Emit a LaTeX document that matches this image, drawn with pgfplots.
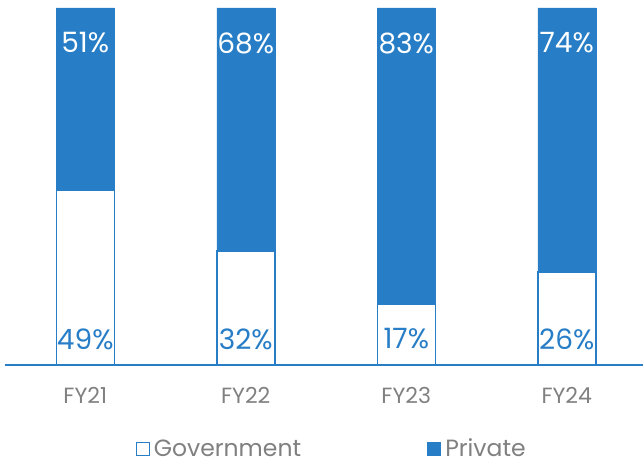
\documentclass[border=0pt]{standalone}
\usepackage{fontspec}
\setmainfont{Poppins}
\usepackage{pgfplots}
\pgfplotsset{compat=1.18}
\definecolor{pblue}{RGB}{39,126,199}
\definecolor{tgray}{RGB}{128,128,128}

\pgfplotstableread{
x gov priv
0 49 51
1 32 68
2 17 83
3 26 74
}\shares

\begin{document}
\begin{tikzpicture}[x=1pt,y=1pt,
    toplab/.style={text=white, font=\fontsize{28}{32}\selectfont, yshift=-35pt},
    botlab/.style={text=pblue, font=\fontsize{28}{32}\selectfont, yshift=26pt}]
\useasboundingbox (0,0) rectangle (643,461);
\begin{axis}[
    at={(5pt,96pt)}, anchor=south west,
    width=638pt, height=357pt, scale only axis,
    ybar stacked, bar width=58pt,
    ymin=0, ymax=100, xmin=-0.5, xmax=3.475,
    axis y line=none, axis x line=bottom,
    axis line style={-, draw=pblue, line width=1.5pt},
    xtick={0,1,2,3}, xticklabels={FY21,FY22,FY23,FY24},
    major tick length=0pt,
    xticklabel style={font=\fontsize{22}{26}\selectfont, text=tgray, yshift=-19pt},
    legend style={at={(0.512,-0.234)}, anchor=center, draw=none, fill=none,
        legend columns=2, font=\fontsize{23.5}{26}\selectfont, text=tgray,
        /tikz/every odd column/.append style={column sep=2pt},
        /tikz/every even column/.append style={column sep=124pt},
        inner sep=0pt},
    legend image code/.code={\draw[#1,line width=1.2pt] (0pt,-7pt) rectangle (13pt,6pt);},
    clip=false,
]
\addplot[fill=white, draw=pblue, line width=1.5pt] table[x=x, y=gov] {\shares};
\addplot[fill=pblue, draw=pblue, line width=0.5pt] table[x=x, y=priv] {\shares};
\legend{Government, Private}
\coordinate (t0) at (axis cs:0,100); \coordinate (b0) at (axis cs:0,0);
\coordinate (t1) at (axis cs:1,100); \coordinate (b1) at (axis cs:1,0);
\coordinate (t2) at (axis cs:2,100); \coordinate (b2) at (axis cs:2,0);
\coordinate (t3) at (axis cs:3,100); \coordinate (b3) at (axis cs:3,0);
\end{axis}
\node[toplab] at (t0) {51\%};
\node[toplab] at (t1) {68\%};
\node[toplab] at (t2) {83\%};
\node[toplab] at (t3) {74\%};
\node[botlab] at (b0) {49\%};
\node[botlab] at (b1) {32\%};
\node[botlab] at (b2) {17\%};
\node[botlab] at (b3) {26\%};
\end{tikzpicture}
\end{document}
